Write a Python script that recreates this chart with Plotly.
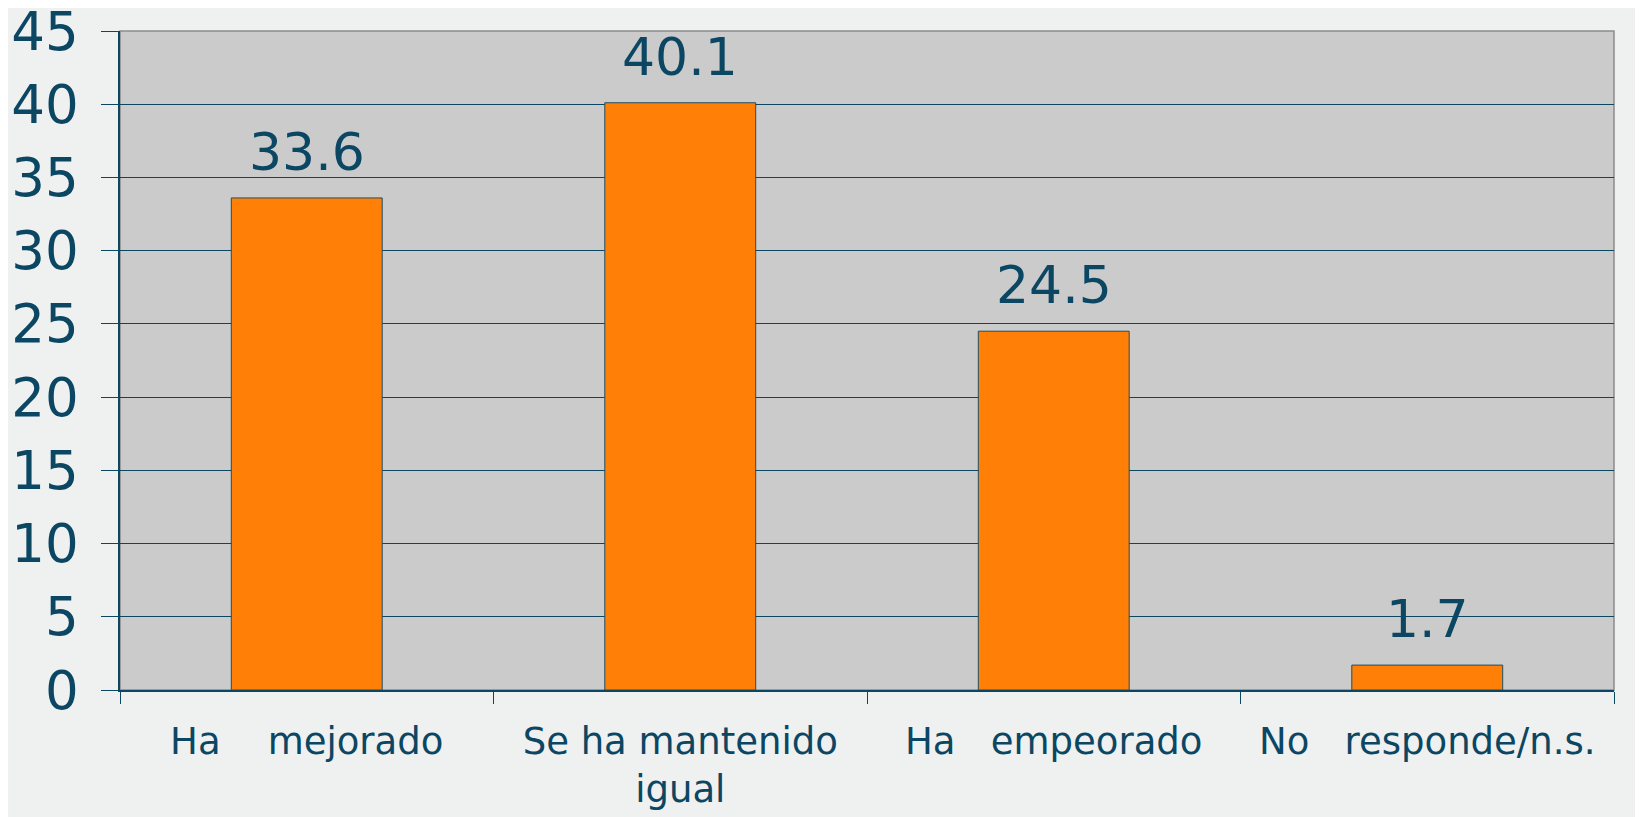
import plotly.graph_objects as go

NAVY = "#0B4663"
CATEGORIAS = [
    "Ha\u00a0\u00a0\u00a0\u00a0mejorado",
    "Se ha mantenido<br>igual",
    "Ha\u00a0\u00a0\u00a0empeorado",
    "No\u00a0\u00a0\u00a0responde/n.s.",
]
PORCENTAJES = [33.6, 40.1, 24.5, 1.7]
Y_TICKS = [0, 5, 10, 15, 20, 25, 30, 35, 40, 45]

fig = go.Figure()
fig.add_trace(go.Bar(
    x=CATEGORIAS,
    y=PORCENTAJES,
    marker=dict(color="#FF7F07", line=dict(color="#1F4E63", width=1)),
    hoverinfo="x+y",
))

# etiquetas de valor encima de cada barra
for cat, val in zip(CATEGORIAS, PORCENTAJES):
    fig.add_annotation(
        x=cat, y=val, text=f"{val}", showarrow=False,
        yanchor="bottom", yshift=14,
        font=dict(family="DejaVu Sans", size=52, color=NAVY),
    )

# borde gris arriba y a la derecha
fig.add_shape(type="rect", xref="paper", yref="paper", x0=0, x1=1, y0=0, y1=1,
              line=dict(color="#8C8C8C", width=1.5), layer="below")

# la página deja 8 px de margen en el body, por eso 1635x809
fig.update_layout(
    width=1635,
    height=809,
    margin=dict(l=112, r=29, t=23, b=127),
    paper_bgcolor="#EFF0F0",
    plot_bgcolor="#CBCBCB",
    bargap=0.596,
    showlegend=False,
    font=dict(family="DejaVu Sans", color=NAVY),
)
fig.update_yaxes(
    range=[0, 45],
    tickvals=Y_TICKS,
    automargin=False,
    ticklabeloverflow="allow",
    ticks="outside", ticklen=17, tickcolor=NAVY, tickwidth=1,
    ticklabelstandoff=12,
    tickfont=dict(family="DejaVu Sans", size=53, color=NAVY),
    showgrid=True, gridcolor=NAVY, gridwidth=1,
    showline=True, linecolor=NAVY, linewidth=1.5,
    zeroline=False,
)
fig.update_xaxes(
    automargin=False,
    tickson="boundaries",
    ticks="outside", ticklen=12, tickcolor=NAVY, tickwidth=1,
    ticklabelstandoff=18,
    tickfont=dict(family="DejaVu Sans", size=37, color=NAVY),
    showline=True, linecolor=NAVY, linewidth=1.5,
    showgrid=False,
)

fig.write_html("out.html")
